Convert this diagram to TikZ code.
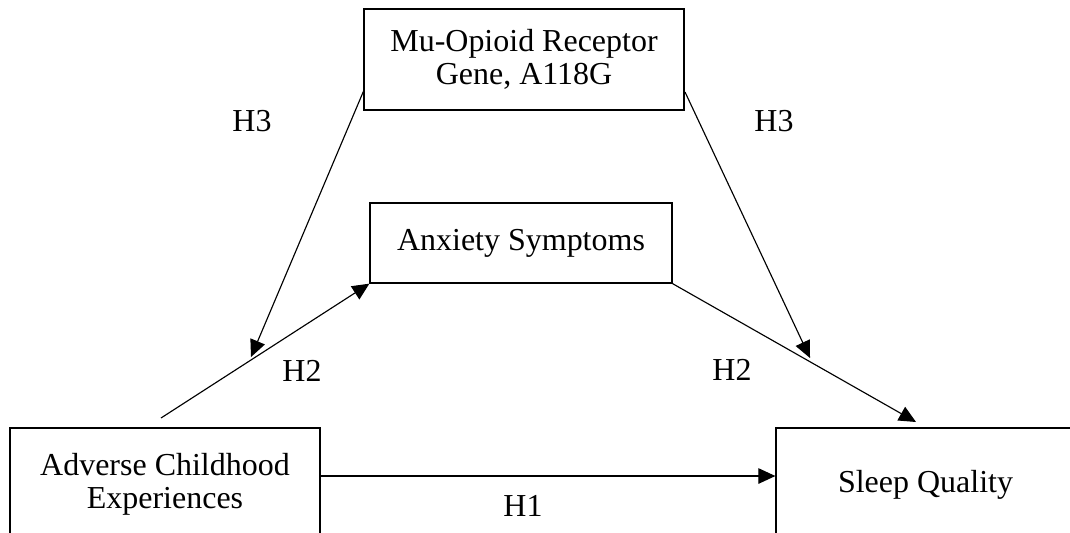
\documentclass[tikz,border=0pt]{standalone}
\usepackage{fontspec}
\setmainfont{Liberation Serif}
\usetikzlibrary{arrows.meta}
\begin{document}
\begin{tikzpicture}[x=0.02cm,y=-0.02cm,
  varbox/.style={draw, line width=0.75pt, inner sep=0pt, align=center,
    font=\fontsize{18.2}{19}\selectfont},
  hlabel/.style={inner sep=0pt, font=\fontsize{18.2}{19}\selectfont},
  link/.style={line width=0.65pt, -{Triangle[length=0.34cm,width=0.31cm]}}]
\useasboundingbox (0,0) rectangle (1070,532);
\clip (0,0) rectangle (1070,532);
\node[varbox, minimum width=6.4cm, minimum height=2.02cm] (mu) at (524,59.5)
  {Mu-Opioid Receptor\\Gene, A118G};
\node[varbox, minimum width=6.04cm, minimum height=1.6cm] (anx) at (521,243)
  {Anxiety Symptoms};
\node[varbox, minimum width=6.2cm, minimum height=2.24cm] (ace) at (165,484)
  {Adverse Childhood\\Experiences};
\node[varbox, minimum width=5.98cm, minimum height=2.28cm] (sq) at (925.5,485)
  {Sleep Quality};
\coordinate (muL) at (364,90);
\coordinate (muR) at (685,92);
\coordinate (tipL) at (251,357);
\coordinate (tipR) at (810,358);
\coordinate (aceS) at (161,418);
\coordinate (sqT) at (916,422);
\draw[link] (muL) -- (tipL);
\draw[link] (muR) -- (tipR);
\draw[link] (aceS) -- (anx.south west);
\draw[link] (anx.south east) -- (sqT);
\draw[link] (ace.east |- 0,476) -- (sq.west |- 0,476);
\node[hlabel] (h3l) at (252,121) {H3};
\node[hlabel] (h3r) at (774,121) {H3};
\node[hlabel] (h2l) at (302,371) {H2};
\node[hlabel] (h2r) at (732,370) {H2};
\node[hlabel] (h1) at (523,506) {H1};
\end{tikzpicture}
\end{document}
